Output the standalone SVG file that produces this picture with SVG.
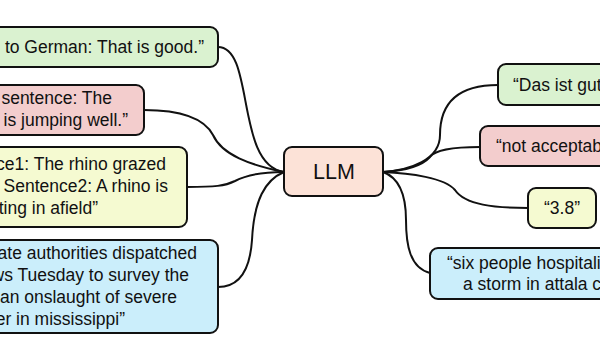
<svg xmlns="http://www.w3.org/2000/svg" width="600" height="350" viewBox="0 0 600 350">
  <style>
    .box { stroke: #111; stroke-width: 2; }
    .green { fill: #daf2d0; }
    .pink { fill: #f3cdcd; }
    .yellow { fill: #f5fad1; }
    .blue { fill: #cbeefb; }
    .core { fill: #fce2d7; }
    .t { font-family: "Liberation Sans", Arial, sans-serif; font-size: 17.5px; fill: #111; }
    .te { text-anchor: end; }
    .tm { text-anchor: middle; }
    .link { fill: none; stroke: #111; stroke-width: 2; stroke-linecap: round; }
  </style>
  <rect width="600" height="350" fill="#fff"/>

  <!-- connectors -->
  <g id="connectors">
    <path class="link" d="M218,47 C255,47 235,165 284,172"/>
    <path class="link" d="M144,110 C185,110 205,120 213,135 C222,155 250,165 284,172"/>
    <path class="link" d="M187,187 C215,187 225,186 235,181 C248,174 265,172 284,172"/>
    <path class="link" d="M218,287 C240,287 250,270 252,240 C254,200 265,180 284,172"/>
    <path class="link" d="M498,85 C455,85 440,105 440,135 C440,160 410,170 383,172"/>
    <path class="link" d="M480,147 C450,147 435,150 430,157 C420,168 400,171 383,172"/>
    <path class="link" d="M528,208 C495,208 465,205 455,190 C445,178 410,173 383,172"/>
    <path class="link" d="M430,273 C410,268 406,245 406,220 C406,195 400,178 383,172"/>
  </g>

  <!-- central node -->
  <g id="llm">
    <rect class="box core" x="284" y="147" width="99" height="49" rx="8"/>
    <text class="t tm" x="334" y="179" style="font-size:21.5px">LLM</text>
  </g>

  <!-- inputs -->
  <g id="in-translate">
    <rect class="box green" x="-60" y="27" width="278" height="40" rx="8"/>
    <text class="t te" x="204" y="53">“Translation to German: That is good.”</text>
  </g>
  <g id="in-cola">
    <rect class="box pink" x="-60" y="85" width="204" height="50" rx="8"/>
    <text class="t te" x="112" y="104">“cola sentence: The</text>
    <text class="t te" x="128" y="126">course is jumping well.”</text>
  </g>
  <g id="in-stsb">
    <rect class="box yellow" x="-60" y="147" width="247" height="80" rx="8"/>
    <text class="t te" x="166" y="170">“stsb Sentence1: The rhino grazed</text>
    <text class="t te" x="168" y="192">on the grass. Sentence2: A rhino is</text>
    <text class="t te" x="98" y="214">eating in afield”</text>
  </g>
  <g id="in-summarize">
    <rect class="box blue" x="-60" y="240" width="278" height="93" rx="8"/>
    <text class="t te" x="197" y="259">“summarize: state authorities dispatched</text>
    <text class="t te" x="189" y="281">emergency crews Tuesday to survey the</text>
    <text class="t te" x="177" y="303">damage after an onslaught of severe</text>
    <text class="t te" x="125" y="325">weather in mississippi”</text>
  </g>

  <!-- outputs -->
  <g id="out-translate">
    <rect class="box green" x="498" y="64" width="160" height="41" rx="8"/>
    <text class="t" x="513" y="91">“Das ist gut.”</text>
  </g>
  <g id="out-cola">
    <rect class="box pink" x="480" y="126" width="180" height="40" rx="8"/>
    <text class="t" x="496" y="152">“not acceptable”</text>
  </g>
  <g id="out-stsb">
    <rect class="box yellow" x="528" y="188" width="68" height="40" rx="8"/>
    <text class="t tm" x="562" y="214">“3.8”</text>
  </g>
  <g id="out-summarize">
    <rect class="box blue" x="430" y="248" width="240" height="51" rx="8"/>
    <text class="t" x="447" y="269">“six people hospitalized after</text>
    <text class="t" x="463" y="290">a storm in attala county.”</text>
  </g>
</svg>
